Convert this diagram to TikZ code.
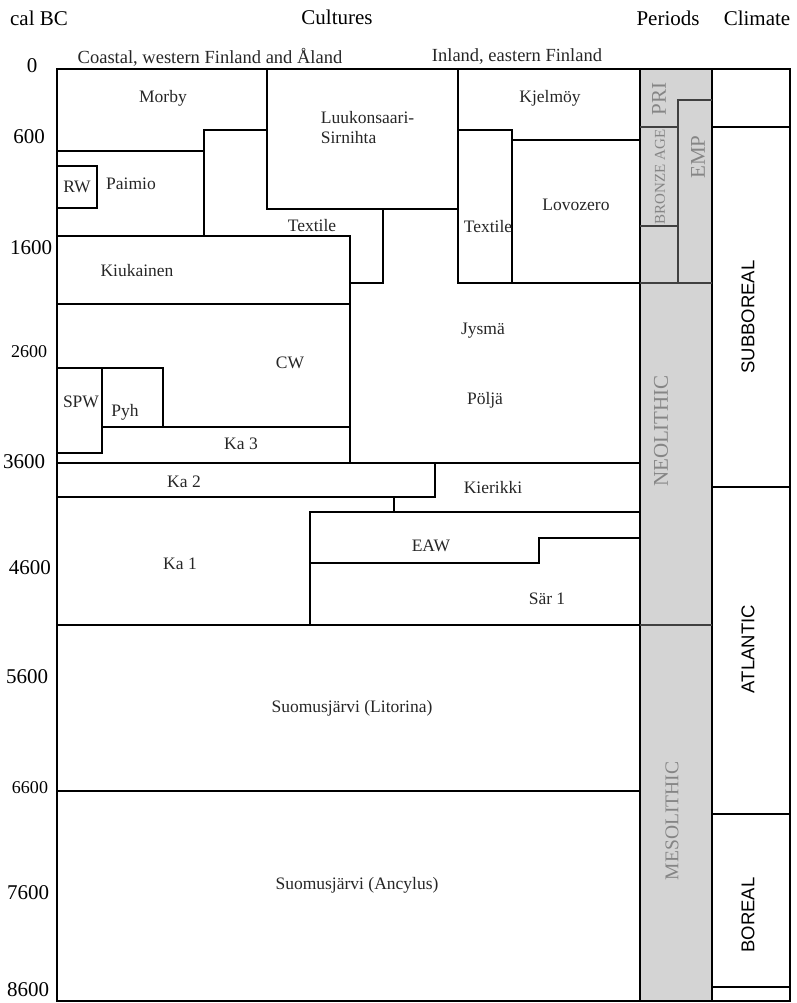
\documentclass[tikz,border=0pt]{standalone}
\usepackage{fontspec}
\setmainfont{Liberation Serif}
\newfontfamily\climfont{Liberation Sans}
\definecolor{pergray}{HTML}{D4D4D4}
\definecolor{pertext}{HTML}{858585}
\begin{document}
\begin{tikzpicture}[x=1pt,y=-1pt,line width=1.8pt,
  lbl/.style={inner sep=0pt,text=black!85,font=\fontsize{17.5}{20}\selectfont},
  hdr/.style={inner sep=0pt,font=\fontsize{21}{24}\selectfont},
  yr/.style={inner sep=0pt,font=\fontsize{21}{24}\selectfont},
  yrsmall/.style={inner sep=0pt,font=\fontsize{18}{20}\selectfont},
  per/.style={inner sep=0pt,rotate=90,text=pertext,font=\fontsize{21}{24}\selectfont},
  clim/.style={inner sep=0pt,rotate=90,font=\climfont\fontsize{18.5}{20}\selectfont},
  perline/.style={line width=1.2pt,black!75}]
  \useasboundingbox (0,0) rectangle (796,1003);
  \fill[pergray] (640,69) rectangle (712,1001);
  \draw[line width=2.3pt] (57,69) rectangle (790,1001);
  \draw (640,69) -- (640,1001) (712,69) -- (712,1001);
  \draw (267,69) -- (267,209) -- (458,209);
  \draw (204,236) -- (204,130) -- (267,130);
  \draw (57,151) -- (204,151);
  \draw (57,166) rectangle (97,208);
  \draw (57,236) -- (350,236) -- (350,463);
  \draw (383,209) -- (383,283) -- (350,283);
  \draw (57,304) -- (350,304);
  \draw (57,368) rectangle (102,453);
  \draw (102,368) -- (163,368) -- (163,427);
  \draw (102,427) -- (350,427);
  \draw (57,463) -- (640,463);
  \draw (435,463) -- (435,497) -- (57,497);
  \draw (394,497) -- (394,512);
  \draw (310,625) -- (310,512) -- (640,512);
  \draw (310,563) -- (539,563) -- (539,538) -- (640,538);
  \draw (57,625) -- (640,625);
  \draw (57,791) -- (640,791);
  \draw (458,69) -- (458,283) -- (640,283);
  \draw (458,130) -- (512,130) -- (512,283);
  \draw (512,140) -- (640,140);
  \draw[perline] (712,100) -- (678,100) -- (678,283);
  \draw[perline] (640,127) -- (678,127) (640,226) -- (678,226);
  \draw[perline] (640,283) -- (712,283) (640,625) -- (712,625);
  \draw (712,127) -- (790,127) (712,487) -- (790,487);
  \draw (712,814) -- (790,814) (712,987) -- (790,987);
  \node[hdr] (calbc) at (39,18) {cal BC};
  \node[hdr] (cultures) at (337,17) {Cultures};
  \node[hdr] (periods) at (668,18) {Periods};
  \node[hdr] (climate) at (757,18) {Climate};
  \node[lbl,font=\fontsize{18.5}{20}\selectfont] (coastal) at (210,57) {Coastal, western Finland and Åland};
  \node[lbl,font=\fontsize{18.5}{20}\selectfont] (inland) at (517,57) {Inland, eastern Finland};
  \node[yr] (y0) at (32,66) {0};
  \node[yr] (y600) at (29,137) {600};
  \node[yr] (y1600) at (31,248) {1600};
  \node[yrsmall] (y2600) at (29,352) {2600};
  \node[yr] (y3600) at (24,462) {3600};
  \node[yr] (y4600) at (30,568) {4600};
  \node[yr] (y5600) at (27,677) {5600};
  \node[yrsmall] (y6600) at (30,788) {6600};
  \node[yr] (y7600) at (28,893) {7600};
  \node[yr] (y8600) at (28,990) {8600};
  \node[lbl] (morby) at (163,98) {Morby};
  \node[lbl,align=left,anchor=west] (luukon) at (320,128) {Luukonsaari-\\Sirnihta};
  \node[lbl] (kjelmoy) at (550,98) {Kjelmöy};
  \node[lbl] (rw) at (77,187) {RW};
  \node[lbl] (paimio) at (131,184) {Paimio};
  \node[lbl] (textilew) at (312,226) {Textile};
  \node[lbl] (textilee) at (488,227) {Textile};
  \node[lbl] (lovozero) at (576,205) {Lovozero};
  \node[lbl] (kiukainen) at (137,271) {Kiukainen};
  \node[lbl] (jysma) at (483,331) {Jysmä};
  \node[lbl] (cw) at (290,363) {CW};
  \node[lbl] (polja) at (485,400) {Pöljä};
  \node[lbl] (spw) at (81,402) {SPW};
  \node[lbl] (pyh) at (125,412) {Pyh};
  \node[lbl] (ka3) at (241,444) {Ka 3};
  \node[lbl] (ka2) at (184,482) {Ka 2};
  \node[lbl] (kierikki) at (493,488) {Kierikki};
  \node[lbl] (eaw) at (431,546) {EAW};
  \node[lbl] (ka1) at (180,564) {Ka 1};
  \node[lbl] (sar1) at (547,599) {Sär 1};
  \node[lbl] (litorina) at (352,708) {Suomusjärvi (Litorina)};
  \node[lbl] (ancylus) at (357,885) {Suomusjärvi (Ancylus)};
  \node[per] (pri) at (659,99) {PRI};
  \node[per,font=\fontsize{15}{18}\selectfont] (bronze) at (660,177) {BRONZE AGE};
  \node[per] (emp) at (698,157) {EMP};
  \node[per] (neolithic) at (661,431) {NEOLITHIC};
  \node[per,font=\fontsize{19.5}{22}\selectfont] (mesolithic) at (672,821) {MESOLITHIC};
  \node[clim] (subboreal) at (748,317) {SUBBOREAL};
  \node[clim] (atlantic) at (748,649) {ATLANTIC};
  \node[clim] (boreal) at (748,915) {BOREAL};
\end{tikzpicture}
\end{document}
